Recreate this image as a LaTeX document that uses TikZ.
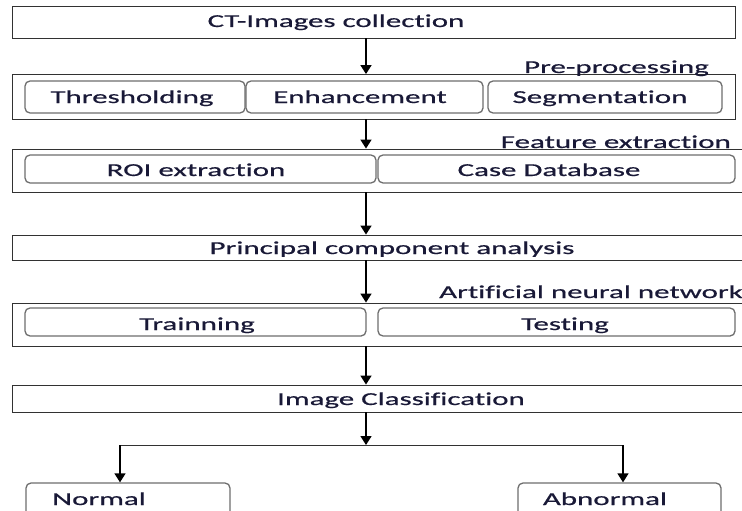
\documentclass[tikz,border=0pt]{standalone}
\usepackage{fontspec}
\setmainfont{Carlito}[FakeStretch=1.7,FakeBold=0.6,Ligatures=NoCommon]
\usetikzlibrary{arrows.meta}
\definecolor{txt}{RGB}{25,25,55}
\definecolor{outl}{RGB}{50,50,50}
\definecolor{inl}{RGB}{110,110,110}
\begin{document}
\begin{tikzpicture}[x=1pt,y=-1pt,
  outer/.style={draw=outl,line width=0.9pt,rectangle,inner sep=0pt},
  inner/.style={draw=inl,line width=1.3pt,rounded corners=5pt,rectangle,inner sep=0pt},
  lbl/.style={text=txt,font=\fontsize{18.2}{20}\selectfont,inner sep=0pt,anchor=base},
  arr/.style={draw=black,line width=1.5pt,-{Triangle[width=11pt,length=9pt]}},
  thinline/.style={draw=outl,line width=0.9pt}]
\useasboundingbox (0,0) rectangle (742,511);
\clip (0,0) rectangle (742,511);
\fill[white] (0,0) rectangle (742,511);
% outer boxes
\node[outer,minimum width=723pt,minimum height=32pt] (top) at (373.5,22) {};
\node[outer,minimum width=723pt,minimum height=44.5pt] (pre) at (373.5,96.75) {};
\node[outer,minimum width=740pt,minimum height=43pt] (feat) at (382,170.5) {};
\node[outer,minimum width=740pt,minimum height=25pt] (pca) at (382,247.5) {};
\node[outer,minimum width=740pt,minimum height=43pt] (ann) at (382,324.5) {};
\node[outer,minimum width=740pt,minimum height=27pt] (cls) at (382,398.5) {};
% inner boxes
\node[inner,minimum width=220pt,minimum height=32pt] (thr) at (135,97) {};
\node[inner,minimum width=237pt,minimum height=32pt] (enh) at (364.5,97) {};
\node[inner,minimum width=234pt,minimum height=32pt] (seg) at (605,97) {};
\node[inner,minimum width=351pt,minimum height=28pt] (roi) at (200.5,169) {};
\node[inner,minimum width=357pt,minimum height=28pt] (case) at (556.5,169) {};
\node[inner,minimum width=341pt,minimum height=28pt] (train) at (195.5,322) {};
\node[inner,minimum width=357pt,minimum height=28pt] (test) at (556.5,322) {};
\node[inner,minimum width=204pt,minimum height=47pt] (normal) at (128,506.5) {};
\node[inner,minimum width=203pt,minimum height=47pt] (abnormal) at (619.5,506.5) {};
% labels
\node[lbl] (tctc) at (336,27) {CT-Images collection};
\node[lbl,anchor=base east] (tpre) at (709,73) {Pre-processing};
\node[lbl] (tthr) at (132,103) {Thresholding};
\node[lbl] (tenh) at (360,103) {Enhancement};
\node[lbl] (tseg) at (600,103) {Segmentation};
\node[lbl,anchor=base east] (tfeat) at (731,148) {Feature extraction};
\node[lbl] (troi) at (196,176) {ROI extraction};
\node[lbl] (tcase) at (549,176) {Case Database};
\node[lbl] (tpca) at (392,254) {Principal component analysis};
\node[lbl,anchor=base east] (tann) at (743,298) {Artificial neural network};
\node[lbl] (ttrain) at (197,330) {Trainning};
\node[lbl] (ttest) at (565,330) {Testing};
\node[lbl] (tcls) at (401,405) {Image Classification};
\node[lbl] (tnorm) at (99,505) {Normal};
\node[lbl] (tabn) at (605,505) {Abnormal};
% connectors
\coordinate (ax) at (366,0);
\coordinate (br) at (366,445);
\coordinate (bl) at (120,445);
\coordinate (brr) at (623,445);
\draw[arr] (top.south -| ax) -- (pre.north -| ax);
\draw[arr] (pre.south -| ax) -- (feat.north -| ax);
\draw[arr] (feat.south -| ax) -- (pca.north -| ax);
\draw[arr] (pca.south -| ax) -- (ann.north -| ax);
\draw[arr] (ann.south -| ax) -- (cls.north -| ax);
\draw[arr] (cls.south -| ax) -- (br);
\draw[thinline] (bl) -- (brr);
\draw[arr] (bl) -- (normal.north -| bl);
\draw[arr] (brr) -- (abnormal.north -| brr);
\end{tikzpicture}
\end{document}
